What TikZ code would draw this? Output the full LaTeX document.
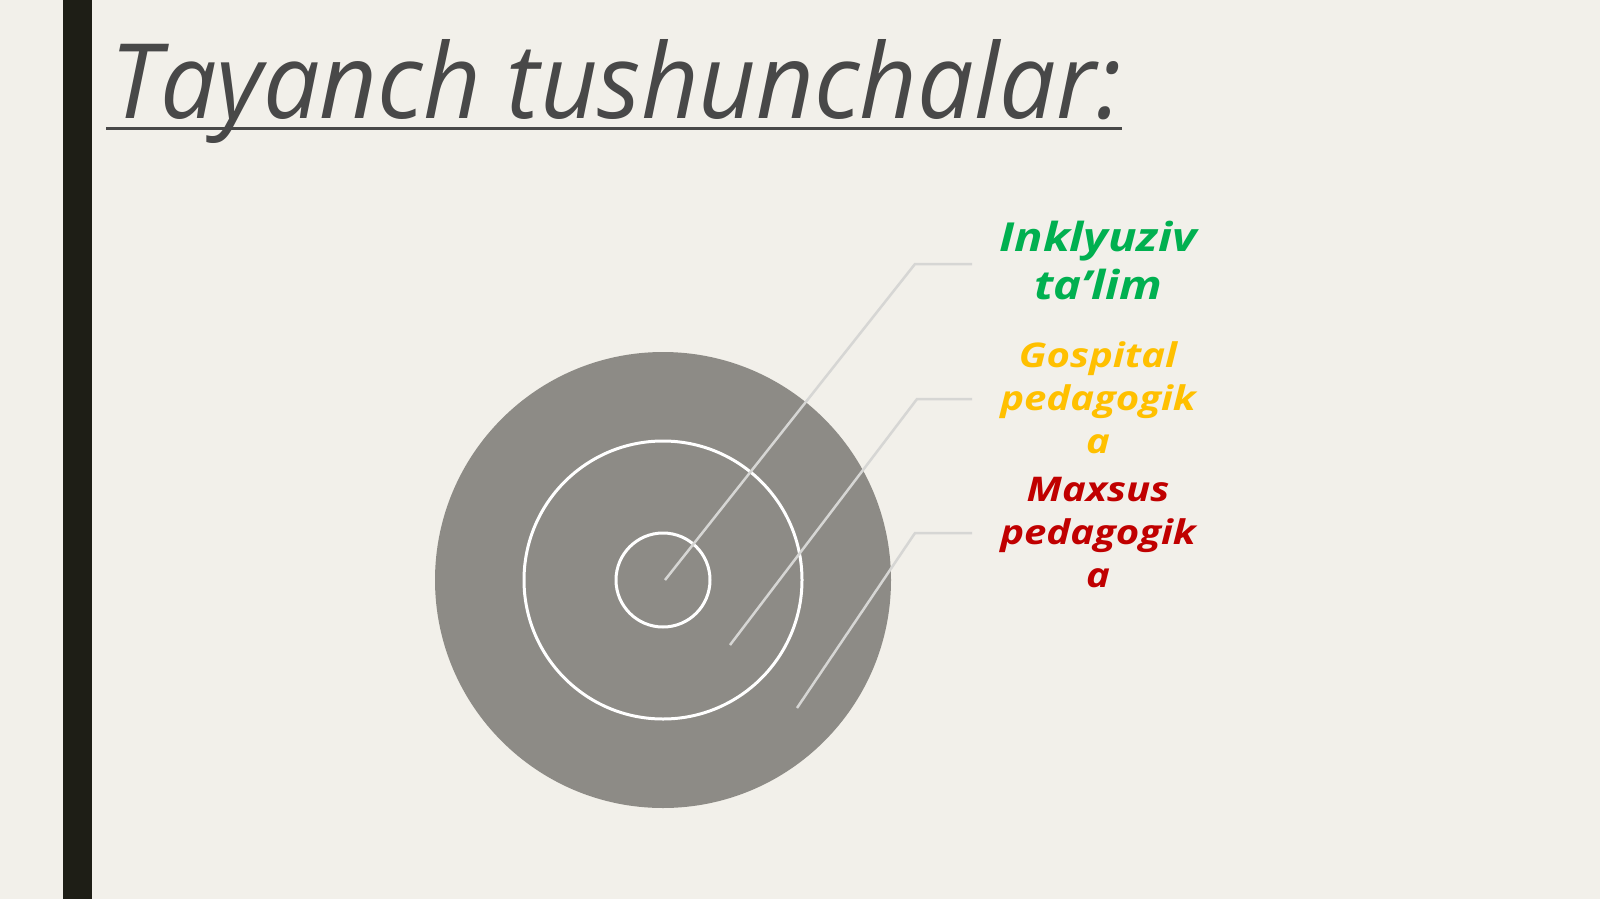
\documentclass[tikz,border=0pt]{standalone}
\usepackage{fontspec}
\setmainfont{Open Sans}
\newfontfamily\titlefont{Open Sans}[FakeStretch=0.965]
\newfontfamily\labelfont{Open Sans}[FakeStretch=1.18]
\usetikzlibrary{positioning}
\definecolor{bgCol}{RGB}{242,240,234}
\definecolor{barCol}{RGB}{30,30,22}
\definecolor{titleCol}{RGB}{72,72,72}
\definecolor{discCol}{RGB}{141,139,134}
\definecolor{leadCol}{RGB}{214,214,212}
\definecolor{inklCol}{RGB}{0,176,80}
\definecolor{gospCol}{RGB}{255,192,0}
\definecolor{maxsCol}{RGB}{192,0,0}
\tikzset{myRing/.style={draw=white, line width=3pt}}
\tikzset{myLeader/.style={draw=leadCol, line width=2.5pt}}
\tikzset{myLabel/.style={align=center, inner sep=0pt, anchor=north, font=\labelfont\bfseries\itshape\fontsize{34}{43}\selectfont}}

\begin{document}
\begin{tikzpicture}[x=1pt,y=-1pt]
	\useasboundingbox (0,0) rectangle (1600,899);
	\fill[bgCol] (0,0) rectangle (1600,899);
	\fill[barCol] (63,0) rectangle (92,899);

	% title
	\node[anchor=base west, inner sep=0pt, text=titleCol, font=\titlefont\itshape\fontsize{104}{120}\selectfont] (title) at (110,118) {Tayanch tushunchalar:};
	\draw[titleCol, line width=3pt] ([yshift=-10pt,xshift=-4pt]title.base west) -- ([yshift=-10pt]title.base east);

	% target
	\coordinate (ctr) at (663,580);
	\fill[discCol] (ctr) circle [radius=228pt];
	\draw[myRing] (ctr) circle [radius=139pt];
	\draw[myRing] (ctr) circle [radius=47pt];

	% labels
	\node[myLabel, text=inklCol, font=\labelfont\bfseries\itshape\fontsize{40}{48}\selectfont] (inkl) at (1098,221) {Inklyuziv\\ta’lim};
	\node[myLabel, text=gospCol] (gosp) at (1098,341) {Gospital\\pedagogik\\a};
	\node[myLabel, text=maxsCol] (maxs) at (1098,477) {Maxsus\\pedagogik\\a};

	% leaders
	\coordinate (inklIn) at (665,580);
	\coordinate (inklBend) at (915,264);
	\coordinate (inklEnd) at (972,264);
	\coordinate (gospIn) at (730,645);
	\coordinate (gospBend) at (917,399);
	\coordinate (gospEnd) at (972,399);
	\coordinate (maxsIn) at (797,708);
	\coordinate (maxsBend) at (915,533);
	\coordinate (maxsEnd) at (972,533);
	\draw[myLeader] (inklIn) -- (inklBend) -- (inklEnd);
	\draw[myLeader] (gospIn) -- (gospBend) -- (gospEnd);
	\draw[myLeader] (maxsIn) -- (maxsBend) -- (maxsEnd);
\end{tikzpicture}
\end{document}
